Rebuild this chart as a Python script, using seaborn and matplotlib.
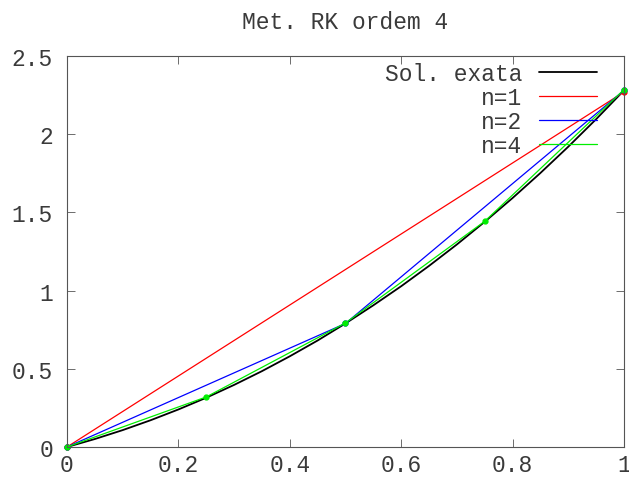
import matplotlib
matplotlib.use("Agg")
import matplotlib.pyplot as plt
import seaborn as sns
from matplotlib.ticker import FuncFormatter

# Exact solution
x_exact = [0.0, 0.05, 0.1, 0.15, 0.2, 0.25, 0.3, 0.35, 0.4, 0.45, 0.5,
           0.55, 0.6, 0.65, 0.7, 0.75, 0.8, 0.85, 0.9, 0.95, 1.0]
y_exact = [0.0, 0.051, 0.108, 0.171, 0.240, 0.315, 0.397, 0.485, 0.580, 0.681, 0.79,
           0.906, 1.028, 1.158, 1.295, 1.44, 1.592, 1.752, 1.920, 2.096, 2.28]

# RK4 approximations
x_n1 = [0.0, 1.0]
y_n1 = [0.0, 2.27]
x_n2 = [0.0, 0.5, 1.0]
y_n2 = [0.0, 0.79, 2.28]
x_n4 = [0.0, 0.25, 0.5, 0.75, 1.0]
y_n4 = [0.0, 0.32, 0.793, 1.443, 2.285]

labels = ["Sol. exata", "n=1", "n=2", "n=4"]
colors = ["#000000", "#ff0000", "#0000ff", "#00ee00"]
title = "Met. RK ordem 4"

sns.set_style("ticks")
plt.rcParams["font.family"] = ["Liberation Mono", "DejaVu Sans Mono"]
plt.rcParams["xtick.direction"] = "in"
plt.rcParams["ytick.direction"] = "in"

TXT = "#3a3a3a"

fig = plt.figure(figsize=(6.29, 4.81), dpi=100)
ax = fig.add_axes([0.1065, 0.0686, 0.8855, 0.8129])

sns.lineplot(x=x_exact, y=y_exact, ax=ax, color=colors[0], lw=1.3,
             label=labels[0], estimator=None, sort=False)
for xs, ys, lab, col in [(x_n1, y_n1, labels[1], colors[1]),
                         (x_n2, y_n2, labels[2], colors[2]),
                         (x_n4, y_n4, labels[3], colors[3])]:
    sns.lineplot(x=xs, y=ys, ax=ax, color=col, lw=0.9, label=lab,
                 estimator=None, sort=False)
    ax.plot(xs, ys, linestyle="none", marker="o", ms=3.5, color=col, clip_on=False)

ax.set_xlim(0, 1)
ax.set_ylim(0, 2.5)
ax.set_xticks([0, 0.2, 0.4, 0.6, 0.8, 1.0])
ax.set_yticks([0, 0.5, 1, 1.5, 2, 2.5])
fmt = FuncFormatter(lambda v, p: "%g" % v)
ax.xaxis.set_major_formatter(fmt)
ax.yaxis.set_major_formatter(fmt)
ax.tick_params(axis="both", which="both", direction="in", top=True, right=True,
               length=6, width=0.6, color="#555555", labelsize=16.5,
               labelcolor=TXT)
ax.tick_params(axis="y", pad=10)
ax.tick_params(axis="x", pad=4)
for s in ax.spines.values():
    s.set_linewidth(0.8)
    s.set_color("#555555")

ax.set_title(title, fontsize=16.5, pad=20, color=TXT)

leg = ax.legend(loc="upper right", bbox_to_anchor=(0.951, 0.985), frameon=False,
                markerfirst=False, fontsize=16.5, handlelength=2.5,
                handletextpad=0.75, labelspacing=0.05, borderpad=0, borderaxespad=0)
for t in leg.get_texts():
    t.set_color(TXT)

fig.savefig("out.png", dpi=100)
